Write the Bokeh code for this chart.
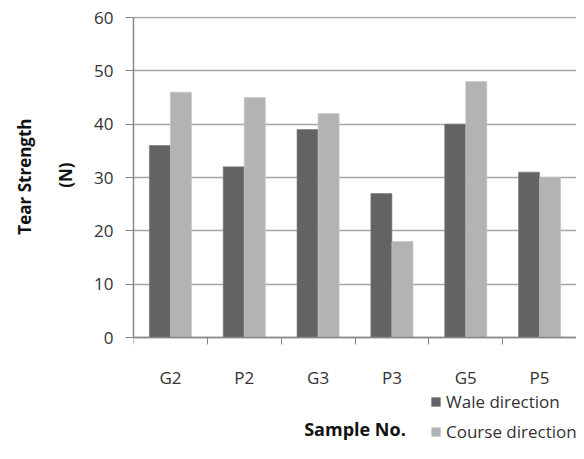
from bokeh.plotting import figure
from bokeh.models import FixedTicker, Range1d, Legend, LegendItem, ColumnDataSource, Title
from bokeh.embed import file_html
from bokeh.resources import INLINE

categories = ["G2", "P2", "G3", "P3", "G5", "P5"]
wale = [36, 32, 39, 27, 40, 31]
course = [46, 45, 42, 18, 48, 30]
y_ticks = [0, 10, 20, 30, 40, 50, 60]

FONT = "Open Sans"
TXT = "#333333"
GRID = "#a6a6a6"
AX = "#868686"

n = len(categories)
centers = [i + 0.5 for i in range(n)]
bw = 0.285

src = ColumnDataSource(dict(
    xw=[c - bw / 2 for c in centers],
    xc=[c + bw / 2 for c in centers],
    wale=wale, course=course))

# frame runs from the top of the plot to the bottom of the canvas; the x axis is
# pinned at y=0 so the space beneath it (labels, legend) lies inside the frame
p = figure(width=576, height=443, output_backend="svg", toolbar_location=None,
           x_range=Range1d(0, n), y_range=Range1d(-19.875, 60.1875),
           min_border_left=133, min_border_top=16, min_border_right=0,
           min_border_bottom=0)
p.outline_line_color = None
p.background_fill_color = "white"
p.border_fill_color = "white"

r1 = p.vbar(x="xw", top="wale", bottom=0, width=bw, source=src, fill_color="#636363",
            line_color="#7a7a7a", line_width=0.6)
r2 = p.vbar(x="xc", top="course", bottom=0, width=bw, source=src, fill_color="#b3b3b3",
            line_color="#c4c4c4", line_width=0.6)

# x axis
xa = p.xaxis[0]
xa.fixed_location = 0
xa.ticker = FixedTicker(ticks=centers, minor_ticks=list(range(n + 1)))
xa.major_label_overrides = {c: lab for c, lab in zip(centers, categories)}
xa.major_tick_line_color = None
xa.major_tick_out = 0
xa.major_tick_in = 0
xa.minor_tick_out = 7
xa.minor_tick_in = 0
xa.minor_tick_line_color = AX
xa.axis_line_color = AX
xa.axis_line_width = 1.5
xa.major_label_standoff = 21
xa.major_label_text_font = FONT
xa.major_label_text_font_size = "17px"
xa.major_label_text_color = TXT
xa.axis_label = "Sample No."
xa.axis_label_text_font = FONT
xa.axis_label_text_font_size = "18px"
xa.axis_label_text_font_style = "bold"
xa.axis_label_text_color = "#111111"
xa.axis_label_standoff = 25

# y axis
ya = p.yaxis[0]
ya.bounds = (0, 60)
ya.ticker = FixedTicker(ticks=y_ticks)
ya.minor_tick_line_color = None
ya.major_tick_out = 8
ya.major_tick_in = 0
ya.major_tick_line_color = AX
ya.axis_line_color = AX
ya.axis_line_width = 1.5
ya.major_label_standoff = 12
ya.major_label_text_font = FONT
ya.major_label_text_font_size = "17px"
ya.major_label_text_color = TXT

p.xgrid.grid_line_color = None
p.ygrid.grid_line_color = GRID
p.ygrid.grid_line_width = 1.5

# y-axis title in two lines, top ends placed so each line is centred on the 0-60 span
for txt, so, off in [("(N)", 29, 146), ("Tear Strength", 4, 102)]:
    p.add_layout(Title(text=txt, align="right", offset=off, standoff=so,
                       text_font=FONT, text_font_size="17px", text_font_style="bold",
                       text_color="#111111"), "left")

legend = Legend(items=[LegendItem(label="Wale direction", renderers=[r1]),
                       LegendItem(label="Course direction", renderers=[r2])],
                location=(297, 0), orientation="vertical",
                border_line_color=None, background_fill_alpha=0,
                label_text_font=FONT, label_text_font_size="17px",
                label_text_color=TXT, glyph_width=11, glyph_height=11,
                label_height=20, label_standoff=5, spacing=7, padding=0, margin=0)
p.add_layout(legend, "center")

open("out.html", "w").write(file_html(p, INLINE))
